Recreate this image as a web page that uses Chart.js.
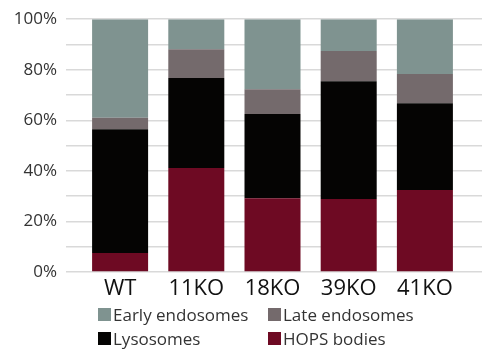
<!DOCTYPE html>
<html>
<head>
<meta charset="utf-8">
<script src="https://cdn.jsdelivr.net/npm/chart.js@4"></script>
<style>
  body{margin:0;background:#fff;}
  #wrap{position:relative;width:482px;height:350px;}
  #legend{position:absolute;left:98px;top:304px;display:grid;grid-template-columns:170px 170px;row-gap:4px;
    font-family:"Open Sans",sans-serif;font-size:17px;color:#333;}
  .item{display:flex;align-items:center;height:20px;white-space:nowrap;}
  .box{width:13px;height:13px;margin-right:2px;}
</style>
</head>
<body>
<div id="wrap">
  <canvas id="myChart" width="482" height="350"></canvas>
  <div id="legend"></div>
</div>
<script>
const categories = ['WT', '11KO', '18KO', '39KO', '41KO'];
const hopsBodies = [7.5, 41.1, 29.2, 28.9, 32.4];
const lysosomes = [49.0, 35.6, 33.3, 46.6, 34.4];
const lateEndosomes = [4.5, 11.4, 9.8, 11.9, 11.5];
const earlyEndosomes = [39.0, 11.9, 27.7, 12.6, 21.7];
const seriesNames = ['Early endosomes', 'Late endosomes', 'Lysosomes', 'HOPS bodies'];
const seriesColors = ['#7f9390', '#746a6c', '#050403', '#6e0a23'];
const yTicks = [0, 20, 40, 60, 80, 100];

const gridColor = '#d9d9d9';

window.onload = function(){
    createChart();
    createLegend();
}

function createChart(){
    const ctx = document.getElementById('myChart').getContext('2d');
    // stacked from the bottom: HOPS, lysosomes, late, early
    const myChart = new Chart(ctx, {
        type: 'bar',
        data: {
            labels: categories,
            datasets: [
                {label: seriesNames[3], data: hopsBodies, backgroundColor: seriesColors[3]},
                {label: seriesNames[2], data: lysosomes, backgroundColor: seriesColors[2]},
                {label: seriesNames[1], data: lateEndosomes, backgroundColor: seriesColors[1]},
                {label: seriesNames[0], data: earlyEndosomes, backgroundColor: seriesColors[0]}
            ]
        },
        options: {
            responsive: false,
            animation: false,
            layout: {padding: {top: 19, left: 0, right: 0, bottom: 0}},
            datasets: {bar: {barPercentage: 0.735, categoryPercentage: 1}},
            plugins: {
                legend: {display: false},
                tooltip: {enabled: false}
            },
            scales: {
                x: {
                    stacked: true,
                    grid: {display: false, drawTicks: false},
                    border: {display: false},
                    ticks: {
                        padding: 4,
                        color: '#111',
                        font: {family: 'Open Sans', size: 22}
                    },
                    afterFit: function(scale){ scale.height = 78; }
                },
                y: {
                    stacked: true,
                    min: 0,
                    max: 100,
                    border: {display: false},
                    grid: {color: gridColor, lineWidth: 1.5, tickLength: 16},
                    ticks: {
                        stepSize: 10,
                        autoSkip: false,
                        padding: 9,
                        color: '#333',
                        font: {family: 'Open Sans', size: 17},
                        callback: function(v){ return yTicks.includes(v) ? v + '%' : ''; }
                    },
                    afterFit: function(scale){ scale.width = 82; }
                },
                y2: {
                    position: 'right',
                    min: 0,
                    max: 100,
                    border: {display: false},
                    grid: {color: gridColor, lineWidth: 1.5, tickLength: 19, drawOnChartArea: false},
                    ticks: {display: false, stepSize: 10, autoSkip: false},
                    afterFit: function(scale){ scale.width = 19; }
                }
            }
        }
    });
}

function createLegend(){
    const legend = document.getElementById('legend');
    for(let i = 0; i < seriesNames.length; i++){
        let item = document.createElement('div');
        item.className = 'item';
        let box = document.createElement('span');
        box.className = 'box';
        box.style.background = seriesColors[i];
        item.appendChild(box);
        item.appendChild(document.createTextNode(seriesNames[i]));
        legend.appendChild(item);
    }
}
</script>
</body>
</html>
